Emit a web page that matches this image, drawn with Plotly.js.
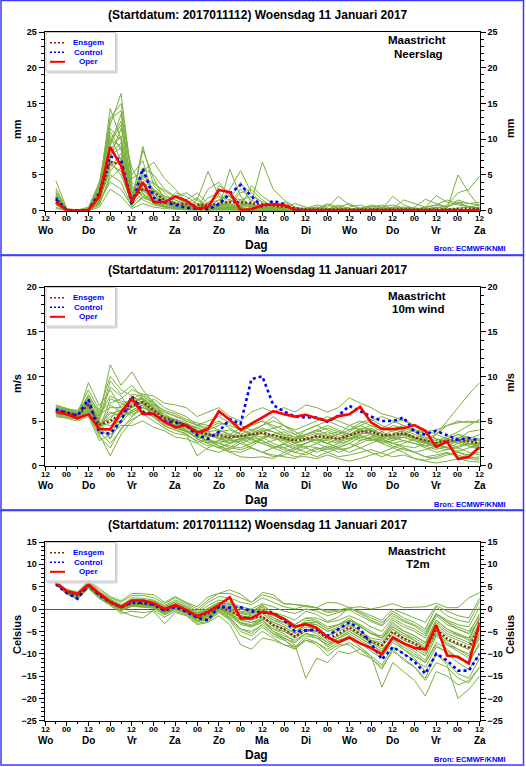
<!DOCTYPE html>
<html><head><meta charset="utf-8">
<script src="https://cdn.plot.ly/plotly-3.0.1.min.js"></script>
<style>html,body{margin:0;padding:0;background:#fff;overflow:hidden}#chart{width:526px;height:767px}</style>
</head><body><div id="chart"></div>
<script>
// ---------- time axis (hours after 2017-01-11 12 UTC) ----------
const hours = [6,12,18,24,30,36,42,48,54,60,66,72,78,84,90,96,102,108,114,120,126,132,138,144,150,156,162,168,174,180,186,192,198,204,210,216,222,228,234,240];
const tickHours = [0,12,24,36,48,60,72,84,96,108,120,132,144,156,168,180,192,204,216,228,240];
const tickLabels = ['12','00','12','00','12','00','12','00','12','00','12','00','12','00','12','00','12','00','12','00','12'];
const dayHours = [0,24,48,72,96,120,144,168,192,216,240];
const dayNames = ['Wo','Do','Vr','Za','Zo','Ma','Di','Wo','Do','Vr','Za'];

// ---------- Neerslag (mm) ----------
const precipOper = [1.2,0.05,0,0.1,2.0,8.9,6.3,1.2,4.0,1.2, 1.2,2.0,1.4,0.3,0.5,2.9,2.6,0.1,0.2,0.8, 0.9,0.8,0.1,0.05,0.05,0.05,0.05,0.05,0.05,0.05, 0.05,0.05,0.05,0.05,0.05,0.05,0.05,0.05,0.05,0.05];
const precipControl = [1.6,0.05,0,0.05,2.5,7.6,7.1,0.8,5.9,1.8, 1.2,0.8,0.4,0.3,0.2,0.9,2.4,3.6,2.0,0.5, 1.4,0.9,0.1,0,0,0,0,0,0,0, 0,0,0,0,0,0,0,0,0,0];
const precipEnsgem = [1.8,0.1,0,0.1,2.0,6.8,6.5,1.6,3.0,2.6, 1.5,1.0,0.9,0.8,0.8,1.0,1.2,1.2,1.1,0.9, 0.7,0.5,0.3,0.2,0.2,0.2,0.15,0.15,0.15,0.15, 0.15,0.15,0.15,0.15,0.15,0.2,0.2,0.3,0.3,0.3];
const precipMembers = [
[1.5,0.1,0,0.1,2.2,9.5,12.0,2.0,4.5,3.0, 1.5,1.0,0.5,0.3,1.2,2.0,1.5,0.8,0.5,0.3, 0.2,0.1,0,0,0,0,0.1,0,0,0, 0,0,0,0,0,0,0,0,0.2,0.3],
[2.0,0.2,0,0.2,3.0,14.3,10.0,3.5,2.0,1.2, 0.8,0.5,1.0,1.8,0.5,0.2,0.5,1.5,2.0,1.2, 0.5,0.2,0.1,0,0,0,0,0,0,0, 0,0,0,0,0,0,0.5,1.2,0.5,0.2],
[1.0,0,0,0,1.5,6.0,8.0,1.0,5.5,6.8, 4.5,3.0,1.2,0.5,0.2,0.5,1.0,3.0,1.5,0.6, 0.3,0.2,0,0,0,0,0,0,0,0, 0.2,0.5,0.1,0,0,0,0,0,0,0],
[4.2,0.3,0.1,0.1,1.0,4.5,6.0,2.5,3.0,2.0, 1.0,0.8,0.5,1.5,5.5,2.0,0.5,0.3,0.1,0, 0,0,0,0,0,0,0,0,0,0, 0,0,0,0,0,0,0,0,0,0],
[1.8,0.1,0,0.3,2.8,12.0,16.4,4.0,2.5,1.0, 0.5,0.3,0.2,0.2,0.1,1.0,3.0,5.6,2.5,1.0, 0.3,0,0,0,0,0,0,0,0,0, 0,0,0,0,0,0,0,0,0,0],
[0.8,0,0,0,1.2,8.0,9.5,1.5,9.0,3.5, 2.0,1.5,0.8,0.5,0.5,0.3,0.2,0.5,1.2,6.8, 3.0,1.5,0.5,0.1,0,0,0,0,0,0, 0,0,0,0,0,0,0,0,0,0],
[2.5,0.2,0.1,0.5,4.0,10.5,7.0,1.0,3.5,4.0, 2.5,1.0,0.5,0.2,3.0,4.0,2.0,0.5,0.2,0.1, 0,0,0,0,0,0,0,0,0,0, 0,0,0,0,0,0,0,0,0,0],
[1.2,0,0,0,0.8,5.0,4.0,0.5,2.0,1.5, 1.0,2.5,2.0,1.0,0.5,0.3,5.8,2.0,0.5,0.2, 0.1,0,0,0,0,0,0,0,0,0, 0,0.2,0,0,0,0,0,0,0,0],
[1.6,0.1,0,0.1,2.0,7.5,11.5,6.0,3.0,1.5, 0.5,0.3,0.3,0.5,1.0,1.5,1.0,0.5,3.5,2.0, 1.0,0.5,0.2,0,0,0,0,0,0,0, 0,0,0,0,0,0,0,0,0,0],
[0.5,0,0,0,1.5,9.0,13.5,3.0,1.5,0.8, 0.5,0.5,1.5,2.5,1.0,0.5,0.3,0.2,0.1,0.5, 0.8,0.5,0.2,0.1,0.1,0,0,0,0,0, 0,0,0,0,0,0,0,0,0,0],
[2.2,0.1,0,0.2,3.5,11.0,8.5,2.0,6.0,5.0, 3.0,2.0,1.0,0.5,0.3,0.5,1.5,4.0,1.0,0.5, 0.2,0.1,0,0,0,0,0,0,0,0, 0,0,0,0,0,0,0,0,0,0],
[1.4,0,0,0.1,1.8,6.5,5.5,1.5,4.0,2.5, 1.5,1.2,0.3,0.1,0.2,3.5,2.5,1.0,0.3,0.1, 0,0,0,0,0,0,0,0,0,0, 0,0,0,0,0,0,0,0,0,0],
[0.3,0,0,0,0.5,3.0,2.0,0.3,1.0,0.5, 0.3,0.2,0,0,0,0,0,0,0,0, 0,0,0,0,0,0,0,0,0,0, 0,0,0,0,0,0,0,0,0,0],
[1.9,0.1,0,0.2,2.5,13.0,15.0,5.0,7.0,2.0, 1.0,0.5,0.2,0.1,0.5,1.0,0.5,0.2,0,0.2, 1.0,0.8,0.3,0,0.2,0,0,0,0,0, 0,0,0,0,0,0,0,0,0,0],
[1.0,0,0,0,1.0,7.0,6.5,0.8,2.5,1.0, 0.8,2.0,2.5,1.5,0.5,0.2,0.1,0,0,0, 0,0,0,0,0,0,0,0,0,0, 0,0,0,0,0,0,0,0,0,0],
[2.8,0.2,0.1,0.3,3.2,8.5,10.5,2.5,5.0,3.0, 2.0,1.5,0.8,0.4,0.3,0.6,1.0,2.5,3.0,1.5, 0.5,0.2,0,0,0,0,0,0,0,0, 0,0,0,0,0,0,0,0,0,0],
[1.3,0.1,0,0,1.6,5.5,7.5,1.2,8.5,4.5, 1.5,0.6,0.3,0.2,0.1,0.2,0.5,1.0,0.8,0.4, 0.2,0,0,0,0,0,0,0,0,0, 0,0,0,0,0,0,0,0,0,0],
[1.7,0.1,0,0.1,2.4,10.0,9.0,1.8,3.2,2.2, 1.2,0.8,0.6,0.4,0.5,1.5,2.0,1.5,0.8,0.3, 0.1,0.2,0.1,0.3,0.8,0.5,2.0,0.8,0.3,0.2, 0.5,0.8,0.4,0.2,0.5,0.8,0.5,1.5,1.0,0.8],
[1.1,0,0,0.1,1.4,6.8,5.0,1.0,4.8,3.8, 2.8,1.8,1.0,0.6,0.2,0.1,0.3,0.8,0.5,0.2, 0.3,1.2,0.5,0.2,0.3,0.8,0.3,0.1,0.4,0.6, 0.2,2.0,0.8,0.3,0.2,0.5,0.3,5.0,2.5,0.5],
[2.4,0.2,0,0.2,2.8,9.8,12.5,3.2,2.2,1.8, 1.0,0.7,0.4,0.3,1.8,2.5,0.8,0.3,0.2,0.4, 0.8,0.3,1.0,0.5,0.3,0.2,0.5,1.0,0.3,0.1, 0.1,0.3,1.5,1.0,0.5,2.1,1.2,0.8,0.5,0.3],
[1.5,0.1,0,0,2.0,7.8,8.8,1.5,2.8,1.6, 0.6,0.4,0.5,0.8,0.3,0.2,0.4,0.8,1.0,0.5, 0.3,0.5,0.2,0.1,0.5,0.3,0.2,0.5,0.8,0.3, 0.2,0.5,0.3,0.5,1.6,1.0,0.5,1.2,1.0,1.2],
[2.0,0.1,0,0.1,2.6,11.5,9.8,2.2,3.8,2.8, 1.8,1.0,0.6,0.3,0.2,0.4,0.8,1.2,0.6,0.3, 0.1,0.1,0.3,0.2,0.1,0.2,0.8,0.3,0.2,0.5, 0.8,0.3,0.5,0.3,0.2,0.3,0.8,2.5,3.0,4.8],
[0.9,0,0,0,1.2,4.0,3.0,0.6,1.8,1.2, 0.6,0.3,0.2,0.5,0.8,0.3,0.2,0.1,0.3,0.5, 0.2,0.1,0.2,0.4,0.2,1.0,0.5,0.2,0.1,0.3, 0.4,0.2,0.3,0.4,0.2,0.5,0.2,0.3,0.5,0.8],
[3.2,0.2,0,0.3,3.8,12.8,14.0,4.5,5.5,2.5, 1.2,0.8,0.4,0.2,0.1,0.3,0.6,0.4,0.2,0.1, 0.5,0.3,0.1,0.2,0.5,0.3,0.2,0.1,0.2,0.8, 0.5,0.2,0.1,0.2,0.4,0.8,1.5,1.0,0.6,0.4]
];

// ---------- 10m wind (m/s) ----------
const windOper = [6.0,5.75,5.3,5.75,4.1,4.05,6.0,7.5,5.8,5.8, 4.9,4.3,4.55,3.7,4.1,6.1,5.15,4.0,4.7,5.4, 6.1,5.75,5.5,5.7,5.3,5.0,5.55,5.75,6.6,4.85, 4.1,4.1,4.2,4.55,3.9,2.1,2.7,0.75,1.0,2.1];
const windControl = [6.3,5.9,5.6,7.4,3.7,3.6,5.0,7.8,6.0,5.8, 5.0,4.8,4.5,3.4,3.0,3.8,5.2,4.7,9.7,10.0, 6.8,6.05,5.5,5.4,5.4,4.9,5.6,6.7,6.1,5.5, 5.0,5.0,5.4,3.8,3.5,3.9,3.4,2.9,3.1,2.8];
const windEnsgem = [6.2,6.0,5.6,6.8,4.6,5.0,5.8,6.7,7.1,6.2, 5.3,5.0,4.5,3.8,3.5,3.4,3.2,3.3,3.5,3.7, 3.4,3.1,2.8,3.0,3.3,3.2,3.0,3.4,3.8,3.8, 3.4,3.5,3.6,3.2,2.8,2.6,2.8,2.9,2.7,2.5];
const windMembers = [
[6.2,6.0,5.6,6.5,4.5,5.5,6.0,7.0,7.5,6.5, 5.5,5.2,4.8,4.0,3.5,3.0,2.8,3.0,3.5,4.0, 3.8,3.2,2.5,2.8,3.5,3.8,3.2,3.0,3.8,4.2, 3.5,3.0,3.2,2.8,2.5,2.2,2.5,3.0,2.8,2.5],
[6.5,6.2,5.8,7.5,5.0,3.0,5.0,8.0,7.8,6.8, 5.8,5.0,4.2,3.5,4.5,5.0,4.2,3.5,2.8,2.5, 2.0,2.5,3.0,3.5,4.0,4.5,4.0,3.5,3.0,2.8, 3.2,4.0,4.5,3.8,3.0,2.5,2.0,2.5,3.0,3.5],
[5.8,5.6,5.4,6.0,4.0,7.5,7.0,6.5,7.0,6.0, 5.0,4.5,4.0,3.0,2.5,2.0,2.5,3.0,3.2,2.8, 2.2,1.8,1.5,2.0,2.5,3.0,3.5,4.5,5.0,4.5, 3.8,3.2,2.8,2.5,2.0,1.5,1.8,2.2,2.5,2.0],
[6.0,5.8,5.5,9.3,6.7,8.5,6.5,5.5,6.5,7.5, 6.5,6.0,5.5,4.5,4.0,4.5,5.0,4.5,4.0,4.5, 5.0,4.5,4.0,4.5,5.0,5.5,5.0,4.5,4.0,3.5, 3.0,3.5,4.0,3.5,3.0,3.5,4.5,5.0,4.8,5.0],
[6.8,6.4,6.0,7.0,5.5,11.3,9.0,10.5,8.5,7.0, 5.5,5.0,4.5,4.0,3.0,2.5,2.0,1.8,2.2,3.0, 3.5,3.0,2.5,2.0,1.5,2.0,2.5,3.5,4.0,3.5, 2.5,2.0,2.5,3.0,3.5,3.0,2.5,2.0,1.5,1.2],
[5.6,5.4,5.2,6.2,3.5,1.1,3.5,5.0,6.0,5.5, 4.5,4.0,3.5,1.1,2.0,2.5,3.0,2.5,2.0,1.5, 1.0,1.2,1.8,2.5,3.0,2.5,2.0,1.5,2.0,2.5, 3.0,2.5,2.0,1.5,1.0,0.8,1.2,1.5,1.0,0.8],
[6.3,6.1,5.7,8.0,5.8,6.5,6.5,7.5,8.0,7.2, 6.0,5.5,5.0,4.5,5.0,5.5,4.8,4.0,4.5,5.0, 4.5,4.0,3.5,4.0,4.5,4.0,3.5,4.0,4.8,5.2, 4.5,4.0,3.8,3.2,2.8,2.5,3.0,3.5,3.2,3.0],
[6.0,5.9,5.5,6.8,4.2,4.0,5.5,6.0,6.5,5.8, 5.0,4.8,4.5,3.8,3.2,3.5,3.0,3.5,4.0,3.5, 3.0,2.8,2.2,2.5,3.0,2.8,2.5,2.8,3.5,3.8, 4.2,4.8,5.2,4.5,3.5,3.0,2.8,2.5,2.2,2.0],
[6.4,6.2,5.9,7.2,5.2,9.5,8.0,9.0,7.5,6.5, 5.2,4.5,4.0,3.5,2.8,2.2,1.8,2.5,3.0,3.8, 4.2,4.5,3.8,3.2,2.8,2.5,2.0,2.5,3.2,3.0, 2.5,2.8,3.5,3.0,2.5,2.0,1.8,2.0,2.5,2.2],
[5.9,5.7,5.3,6.4,4.8,4.5,5.0,6.8,7.2,6.0, 4.8,4.2,3.8,3.5,3.8,4.0,3.5,3.0,2.5,3.0, 3.5,3.0,2.8,3.5,4.0,3.5,3.0,3.8,4.5,4.0, 3.5,3.0,3.5,4.0,3.5,3.0,2.5,3.0,3.8,4.0],
[6.6,6.3,5.9,7.8,6.0,7.0,7.5,8.5,8.0,7.8, 7.0,6.8,6.5,5.5,6.0,6.5,5.5,5.0,6.0,6.5, 6.0,6.5,6.0,6.8,6.5,6.0,6.5,7.6,7.0,6.5, 5.8,5.5,5.0,4.5,4.0,3.5,3.0,2.5,2.8,3.0],
[6.1,5.8,5.4,6.6,3.8,2.5,4.0,5.5,6.8,6.2, 5.5,5.0,4.0,3.0,2.5,2.0,1.5,1.0,0.9,1.0, 0.8,1.5,2.0,1.5,1.0,1.5,2.0,2.5,2.0,1.5, 1.0,1.5,2.0,1.5,1.0,1.2,1.5,1.0,0.8,1.0],
[6.2,6.0,5.6,7.0,4.6,5.8,6.2,7.2,7.6,6.6, 5.6,5.2,4.6,4.2,3.8,3.0,3.2,3.8,4.5,5.0, 4.2,3.5,3.2,3.0,3.2,3.5,3.8,3.2,2.8,3.2, 3.8,4.5,4.2,3.8,3.2,2.8,3.2,3.8,4.5,5.2],
[5.5,5.3,5.0,5.5,2.8,3.5,4.5,4.5,5.0,4.3, 3.9,3.2,3.0,2.5,1.8,1.5,2.0,2.8,2.0,1.5, 2.0,1.5,1.0,1.0,0.8,1.2,0.8,0.5,0.8,1.2, 1.5,2.0,1.5,0.8,0.5,0.3,0.5,0.8,0.5,0.4],
[6.7,6.4,6.1,8.5,6.2,10.0,8.5,7.8,7.0,6.8, 6.2,5.8,5.2,4.8,4.5,4.0,3.5,3.2,3.8,4.5, 5.5,4.5,3.5,3.0,2.8,3.2,3.5,3.0,3.2,3.5, 3.0,2.5,2.8,2.5,2.2,2.5,3.0,3.5,3.0,2.8],
[6.0,5.8,5.6,6.2,4.4,4.8,5.8,6.5,7.3,6.4, 5.4,4.8,4.3,3.6,3.2,3.8,4.0,3.5,3.0,2.5, 2.8,3.2,3.0,4.0,4.5,5.0,4.5,4.0,4.5,5.0, 5.5,5.0,4.5,4.0,3.8,4.0,4.5,4.8,5.0,4.8],
[6.3,6.1,5.8,6.9,4.9,6.0,5.5,6.2,6.8,5.6, 4.6,4.4,3.9,3.2,2.8,2.5,2.2,2.0,2.5,3.2, 2.5,2.0,1.5,1.2,1.8,2.2,1.8,2.0,2.8,3.2, 2.8,2.2,1.8,1.5,1.8,2.2,2.0,1.5,1.2,1.5],
[5.7,5.5,5.2,5.8,3.2,2.0,4.2,5.2,5.8,5.0, 4.2,3.6,3.4,2.8,2.2,2.8,3.5,4.2,3.5,2.8, 2.2,2.0,2.5,3.0,2.5,2.0,1.5,2.0,2.5,3.0, 2.8,2.5,2.2,2.0,2.5,3.5,5.0,6.5,8.0,9.3],
[6.5,6.3,6.2,7.6,5.6,7.8,7.2,7.0,7.8,7.0, 6.0,5.6,5.0,4.6,4.2,4.8,4.5,4.0,3.5,3.2, 3.5,3.8,3.2,3.5,3.8,4.2,3.8,3.5,4.0,4.5, 4.2,3.8,3.5,3.2,2.8,2.5,2.8,3.2,3.0,2.5],
[6.1,5.9,5.6,6.7,4.3,3.0,6.0,6.8,7.0,5.9, 5.0,4.6,4.4,3.4,2.6,2.8,2.5,2.8,3.2,4.0, 3.2,2.5,2.0,2.5,3.0,2.5,3.0,3.5,4.2,4.0, 3.2,2.8,3.2,2.8,2.2,1.8,2.2,2.8,2.2,1.8],
[6.4,6.1,5.7,7.3,5.1,8.8,7.8,6.0,6.5,6.1, 5.3,5.0,4.7,4.3,3.6,3.2,3.0,3.3,3.6,4.2, 3.8,3.4,3.0,3.3,3.6,3.3,2.8,3.3,3.8,4.0, 3.6,3.2,3.6,3.2,2.6,2.2,2.6,2.8,2.4,2.6],
[5.9,5.8,5.3,6.3,4.0,4.2,4.8,6.2,6.8,5.8, 4.8,4.3,3.8,3.1,3.5,3.0,2.6,3.0,3.0,2.5, 2.0,2.4,1.8,2.2,2.0,1.8,2.2,2.8,3.4,3.0, 2.6,3.2,3.8,3.2,2.8,2.4,2.0,1.6,2.0,2.4],
[6.2,6.0,5.7,6.8,4.7,5.2,6.8,7.5,7.4,6.3, 5.2,4.9,4.4,3.9,3.4,3.6,3.4,3.2,3.4,3.6, 3.2,2.9,2.6,2.9,3.2,3.0,2.7,3.0,3.6,3.6, 3.2,3.4,3.4,3.0,2.6,2.4,2.6,2.7,2.5,2.3],
[6.0,5.7,5.4,6.1,3.6,6.8,6.0,5.8,6.2,5.4, 4.4,4.0,3.6,2.6,3.0,2.2,1.6,1.5,2.0,1.5, 1.2,1.0,0.8,1.5,2.0,1.5,1.0,1.2,1.5,1.8, 1.4,1.0,1.2,0.8,0.6,1.0,1.4,1.2,0.8,0.6]
];

// ---------- T2m (Celsius) ----------
const tempOper = [5.9,4.0,3.4,5.5,3.5,1.6,0.4,1.9,1.9,1.3, 0.0,0.9,-0.2,-1.6,-0.6,0.9,2.6,-2.1,-2.1,-0.6, -1.1,-2.2,-4.0,-3.4,-4.2,-6.3,-7.5,-6.4,-7.7,-8.7, -10.1,-6.4,-7.7,-8.7,-9.0,-3.6,-10.4,-10.7,-12.2,-3.0];
const tempControl = [5.5,3.6,2.3,5.4,3.1,1.5,0.4,1.5,1.4,1.0, -0.4,0.5,-0.6,-2.0,-2.5,0.6,0.3,0.4,-0.5,-0.8, -0.8,-2.5,-5.0,-4.8,-4.6,-6.0,-4.5,-3.0,-4.5,-7.7, -11.3,-8.5,-10.0,-11.8,-14.5,-10.0,-11.5,-13.8,-13.8,-10.0];
const tempEnsgem = [5.8,3.8,3.0,5.2,3.2,1.6,0.4,1.3,1.2,0.9, -0.3,0.6,-0.4,-1.8,-1.0,0.5,-0.4,-1.7,-2.0,-1.7, -3.6,-4.5,-6.2,-4.7,-4.7,-6.6,-5.6,-4.1,-5.6,-7.3, -8.1,-5.1,-6.6,-7.7,-9.2,-4.5,-6.6,-7.7,-8.6,-4.0];
const tempMembers = [
[5.9,3.9,3.1,5.4,3.4,1.8,0.6,1.8,1.6,1.2, 0.2,1.2,0.3,-1.0,0.2,1.5,1.0,0.2,-0.5,0.8, -0.8,-1.5,-2.5,-0.5,-1.2,-2.8,-1.8,0.3,-1.0,-2.5, -3.5,-0.5,-2.0,-3.0,-4.5,0.5,-1.5,-2.5,-3.0,1.8],
[5.6,3.6,2.6,5.0,2.9,1.3,0.0,0.8,0.7,0.5, -1.0,0.0,-1.0,-2.6,-2.2,-0.3,-1.8,-4.5,-5.5,-3.5, -5.5,-6.8,-9.0,-7.0,-8.0,-10.5,-8.5,-7.5,-9.0,-11.0, -13.5,-9.0,-11.5,-13.0,-15.5,-10.0,-12.0,-14.5,-15.5,-11.0],
[5.8,3.8,3.2,5.5,3.3,1.7,0.5,1.5,1.4,1.0, -0.2,0.8,-0.2,-1.5,-0.8,0.8,0.2,-1.0,-1.2,0.5, -2.0,-3.0,-4.5,-2.5,-2.8,-4.5,-3.5,-2.0,-3.8,-5.5, -6.5,-3.0,-4.8,-6.0,-7.5,-2.5,-4.5,-5.8,-7.0,-2.0],
[5.7,3.7,2.9,5.1,3.0,1.5,0.2,1.1,1.0,0.7, -0.6,0.4,-0.6,-2.2,-1.5,0.2,-1.0,-3.0,-4.0,-2.5, -5.0,-6.5,-8.0,-15.5,-11.0,-12.0,-9.5,-10.0,-9.0,-10.5, -12.5,-8.5,-10.0,-11.5,-13.0,-8.5,-9.5,-11.0,-12.0,-8.0],
[6.0,4.1,3.4,5.8,3.8,2.2,1.0,2.0,1.9,1.6, 0.6,1.6,0.6,-0.8,0.8,2.0,1.5,0.5,0.0,1.2, 0.5,-0.5,-1.0,0.0,-0.5,-1.5,-0.8,0.0,-0.5,-1.5, -2.5,0.0,-1.0,-2.0,-3.0,0.8,-0.5,-1.5,-2.0,2.5],
[5.5,3.4,2.4,4.7,2.5,1.0,-0.6,-1.5,-2.0,-0.3, -1.8,-0.5,-1.3,-3.2,-2.8,-0.8,-2.5,-6.0,-7.0,-5.0, -6.5,-8.0,-9.0,-6.5,-7.5,-9.0,-7.5,-6.0,-7.5,-9.5, -11.0,-6.5,-8.0,-9.5,-11.5,-6.0,-8.0,-9.5,-11.0,-6.5],
[5.9,4.0,3.3,5.6,3.6,2.0,0.8,2.5,2.4,2.0, 0.8,2.0,1.0,-0.5,1.5,2.8,2.5,1.5,1.0,2.5, 1.5,0.5,0.0,0.8,0.3,-0.5,-0.2,0.3,-0.8,-2.0, -3.0,-1.0,-2.5,-3.5,-5.0,-1.0,-3.0,-4.5,-5.5,-2.5],
[5.8,3.7,3.0,5.3,3.1,1.5,0.3,1.2,1.0,0.8, -0.5,0.5,-0.5,-2.0,-1.5,0.3,-1.0,-2.5,-3.0,-2.5, -4.5,-5.5,-7.5,-5.5,-6.0,-8.5,-7.0,-6.5,-8.5,-10.5, -17.5,-12.0,-14.0,-16.0,-19.5,-14.0,-15.0,-17.0,-16.0,-13.0],
[6.2,4.3,3.6,6.0,4.2,2.5,1.5,3.0,3.0,2.5, 1.2,2.5,1.3,0.0,2.0,3.5,3.5,2.5,1.5,3.2, 2.5,1.2,1.0,0.8,0.2,-0.8,-0.5,-0.2,-1.5,-2.8, -3.8,-1.5,-2.8,-3.8,-5.5,-1.2,-2.8,-4.0,-5.0,-1.5],
[5.6,3.5,2.6,4.9,2.7,1.2,-0.3,0.6,0.4,0.2, -1.3,-0.2,-1.0,-2.8,-2.5,-0.5,-2.2,-5.0,-6.0,-4.0, -6.0,-7.0,-8.5,-6.0,-6.5,-8.0,-6.5,-5.0,-6.5,-8.0, -9.5,-6.0,-7.5,-9.0,-10.5,-5.5,-7.5,-9.0,-10.0,-5.5],
[5.7,3.8,2.9,5.2,3.2,1.6,0.4,1.3,1.2,0.9, -0.3,0.6,-0.4,-1.8,-1.2,0.5,-0.5,-2.0,-2.5,-1.5, -3.5,-4.5,-6.0,-4.5,-5.0,-7.0,-6.0,-4.5,-6.0,-7.5, -9.0,-6.5,-9.0,-11.0,-14.0,-10.0,-12.5,-20.0,-18.0,-15.0],
[5.9,3.9,3.1,5.3,3.3,1.8,0.6,1.6,1.5,1.1, -0.1,0.9,-0.1,-1.3,-0.5,1.0,0.5,-0.8,-1.0,0.0, -2.5,-3.5,-5.0,-3.5,-3.5,-5.0,-4.0,-2.5,-4.0,-5.5, -6.0,-2.5,-4.0,-5.0,-6.5,-1.5,-3.5,-4.5,-5.5,-1.0],
[6.1,4.4,3.8,6.3,4.6,2.8,1.8,3.5,3.4,3.2, 1.5,2.8,1.5,0.5,2.7,3.5,4.3,3.3,1.5,3.7, 3.2,1.2,1.0,0.5,0.3,1.5,1.3,0.3,0.5,0.0, 0.5,1.2,0.3,0.4,0.5,1.3,0.3,0.3,2.5,3.7],
[5.4,3.3,2.2,4.6,2.3,0.8,-1.0,-0.5,-0.8,-0.5, -3.3,-0.8,-1.5,-3.5,-3.0,-1.5,-3.5,-8.0,-9.0,-6.5, -7.0,-8.0,-8.5,-7.0,-7.5,-9.5,-8.0,-8.0,-10.0,-11.0, -13.0,-9.5,-11.0,-13.0,-16.0,-12.0,-13.0,-15.5,-16.5,-13.0],
[5.8,3.9,3.0,5.4,3.4,1.5,0.2,1.0,0.9,0.6, -0.7,0.4,-0.6,-1.8,-1.0,0.8,0.0,-1.5,-2.2,-1.0, -3.0,-4.0,-5.5,-4.0,-4.5,-6.0,-5.0,-3.8,-5.5,-7.0, -8.0,-4.5,-6.0,-7.0,-8.5,-3.5,-5.5,-6.5,-7.5,-3.0],
[6.0,4.0,3.3,5.7,3.7,2.1,0.9,2.2,2.1,1.8, 0.5,1.5,0.5,-1.0,0.0,1.5,1.2,0.0,-0.8,1.0, -1.0,-2.0,-3.5,-2.0,-2.5,-4.0,-3.5,-2.5,-3.5,-5.0, -6.5,-4.0,-5.5,-7.0,-9.0,-5.0,-7.0,-8.0,-9.0,-5.5],
[5.6,3.6,2.7,5.0,2.9,1.4,-0.2,0.8,0.6,0.4, -1.0,0.2,-0.8,-2.3,-2.0,0.0,-1.5,-3.5,-4.0,-3.0, -5.0,-6.0,-7.0,-5.5,-6.0,-7.5,-6.5,-5.5,-7.0,-8.5, -10.0,-7.0,-8.5,-10.0,-12.0,-8.0,-10.0,-12.0,-13.5,-10.0],
[5.7,3.7,2.9,5.1,3.1,1.6,0.5,1.4,1.3,1.0, -0.2,0.7,-0.3,-1.6,-0.8,0.6,-0.3,-1.5,-1.8,-0.8, -2.5,-3.0,-4.0,-3.0,-3.5,-5.0,-4.5,-3.5,-5.0,-6.5, -7.0,-4.0,-5.5,-6.5,-8.0,-3.0,-5.0,-6.0,-6.5,-2.0],
[5.9,3.8,3.1,5.3,3.3,1.7,0.4,1.2,1.1,0.9, -0.3,0.6,-0.4,-1.8,-1.3,0.4,-0.8,-2.5,-3.0,-2.0, -4.0,-5.0,-6.5,-5.0,-5.0,-7.0,-6.0,-4.5,-6.0,-7.5, -8.5,-5.5,-7.0,-8.0,-9.5,-5.0,-7.0,-8.0,-9.0,-4.5],
[5.8,3.7,3.0,5.2,3.2,1.6,0.3,1.3,1.2,0.9, -0.4,0.5,-0.5,-1.9,-1.6,0.3,-1.2,-3.0,-3.5,-2.2, -3.0,-4.0,-5.5,-3.5,-4.0,-6.0,-4.5,-3.0,-5.0,-7.0, -7.5,-4.5,-6.5,-7.5,-9.0,-4.0,-6.0,-7.0,-8.0,-3.5],
[5.5,3.4,2.5,4.8,2.6,1.1,-0.4,0.6,0.5,0.2, -1.2,0.0,-1.0,-2.8,-2.2,-0.3,-2.0,-4.5,-5.0,-3.5, -5.5,-6.5,-7.5,-5.5,-6.5,-8.0,-7.0,-6.0,-7.5,-9.0, -10.5,-7.5,-9.0,-10.5,-12.0,-7.5,-9.0,-11.0,-12.0,-7.5],
[6.0,4.0,3.2,5.5,3.5,1.9,0.7,1.9,1.8,1.4, 0.0,1.0,0.0,-1.2,-0.2,1.2,0.8,-0.5,-0.8,0.5, -1.5,-2.5,-3.5,-2.0,-2.0,-3.0,-2.5,-1.5,-2.5,-4.0, -5.0,-2.0,-3.5,-4.5,-6.0,-1.0,-2.5,-3.5,-4.0,0.5],
[5.7,3.6,2.8,5.1,3.0,1.5,0.1,0.9,0.8,0.5, -0.8,0.3,-0.7,-2.1,-1.8,0.0,-1.2,-3.2,-3.8,-2.5, -4.5,-5.0,-6.0,-4.5,-5.5,-7.5,-6.5,-5.0,-6.5,-8.0, -9.5,-6.0,-7.5,-8.5,-10.0,-5.5,-8.0,-9.0,-10.5,-6.0],
[5.8,3.9,3.1,5.3,3.2,1.7,0.5,1.5,1.3,1.0, -0.1,0.8,-0.2,-1.6,-0.8,0.7,0.0,-1.0,-1.5,0.0, -2.0,-3.0,-4.0,-3.0,-3.0,-4.5,-3.5,-2.5,-4.0,-5.5, -6.5,-3.5,-5.0,-6.0,-7.5,-2.5,-4.5,-5.5,-6.5,-2.0]
];

// ---------- texts ----------
const titleText = '(Startdatum: 2017011112) Woensdag 11 Januari 2017';
const station = 'Maastricht';
const panelNames = ['Neerslag', '10m wind', 'T2m'];
const unitNames = ['mm', 'm/s', 'Celsius'];
const legendNames = ['Ensgem', 'Control', 'Oper'];
const sourceText = 'Bron: ECMWF/KNMI';
const xTitle = 'Dag';

// ---------- styling ----------
const FONT = 'Liberation Sans, Arial, Helvetica, sans-serif';
const GREEN = 'rgb(122,176,62)';
const C_ENS = '#8b2214';
const C_CTL = '#0000ff';
const C_OP = '#ff0000';
const W = 526, H = 767;
const X = p => p / W;
const Y = p => 1 - p / H;

const panels = [
  {members: precipMembers, ens: precipEnsgem, ctl: precipControl, op: precipOper, range: [0, 25]},
  {members: windMembers, ens: windEnsgem, ctl: windControl, op: windOper, range: [0, 20]},
  {members: tempMembers, ens: tempEnsgem, ctl: tempControl, op: tempOper, range: [-25, 15]}
];

const traces = [];
const layout = {
  width: W, height: H, margin: {l: 0, r: 0, t: 0, b: 0},
  paper_bgcolor: '#fff', plot_bgcolor: '#fff', showlegend: false,
  font: {family: FONT, color: '#000'},
  shapes: [], annotations: []
};

const PLOT_L = 45, PLOT_R = 479.7;
panels.forEach((p, k) => {
  const off = 255 * k;
  const top = 32 + off, bot = 210.7 + off;
  const xr = k === 0 ? 'x' : 'x' + (k + 1);
  const yr = k === 0 ? 'y' : 'y' + (k + 1);
  const yr2 = 'y' + (k + 4);
  const xa = k === 0 ? 'xaxis' : 'xaxis' + (k + 1);
  const ya = k === 0 ? 'yaxis' : 'yaxis' + (k + 1);
  const ya2 = 'yaxis' + (k + 4);

  p.members.forEach(m => traces.push({x: hours, y: m, xaxis: xr, yaxis: yr, type: 'scatter', mode: 'lines',
    line: {color: GREEN, width: 1}, hoverinfo: 'skip'}));
  traces.push({x: hours, y: p.ens, xaxis: xr, yaxis: yr, type: 'scatter', mode: 'lines',
    line: {color: C_ENS, width: 2.2, dash: '2px,2px'}, hoverinfo: 'skip'});
  traces.push({x: hours, y: p.ctl, xaxis: xr, yaxis: yr, type: 'scatter', mode: 'lines',
    line: {color: C_CTL, width: 2.6, dash: '3px,3px'}, hoverinfo: 'skip'});
  traces.push({x: hours, y: p.op, xaxis: xr, yaxis: yr, type: 'scatter', mode: 'lines',
    line: {color: C_OP, width: 2.6}, hoverinfo: 'skip'});
  traces.push({x: [], y: [], xaxis: xr, yaxis: yr2, type: 'scatter', mode: 'lines', hoverinfo: 'skip'});

  const tickF = {family: FONT, size: 9, color: '#000', weight: 'bold'};
  layout[xa] = {
    domain: [X(PLOT_L), X(PLOT_R)], anchor: yr, range: [0, 240],
    tickmode: 'array', tickvals: tickHours, ticktext: tickLabels, showticklabels: false,
    ticks: 'outside', ticklen: 4, tickwidth: 1, tickcolor: '#000',
    minor: {tickmode: 'linear', tick0: 0, dtick: 6, ticks: 'outside', ticklen: 2, tickcolor: '#000', showgrid: false},
    showline: true, linecolor: '#000', linewidth: 1.5, mirror: true,
    showgrid: false, zeroline: false, fixedrange: true
  };
  const yCommon = {
    range: p.range, tickmode: 'linear', tick0: 0, dtick: 5,
    ticks: 'outside', ticklen: 5, tickwidth: 1, tickcolor: '#000',
    minor: {tickmode: 'linear', tick0: 0, dtick: 1, ticks: 'outside', ticklen: 3, tickcolor: '#000', showgrid: false},
    showgrid: false, fixedrange: true, tickfont: tickF
  };
  layout[ya] = Object.assign({}, yCommon, {
    domain: [Y(bot), Y(top)], anchor: xr,
    showline: true, linecolor: '#000', linewidth: 1.5, mirror: true,
    zeroline: k === 2, zerolinecolor: '#555', zerolinewidth: 1
  });
  layout[ya2] = Object.assign({}, yCommon, {
    overlaying: yr, side: 'right', anchor: xr, showline: false, zeroline: false
  });

  const A = (text, x, y, size, color, extra) => layout.annotations.push(Object.assign({
    text: text, x: X(x), y: Y(y + off), xref: 'paper', yref: 'paper', showarrow: false,
    xanchor: 'center', yanchor: 'middle',
    font: {family: FONT, size: size, color: color || '#000', weight: 'bold'}
  }, extra || {}));

  A(titleText, 258, 15, 12);
  A(station, 417, 40.5, 11.5, '#000', {borderpad: 0});
  A(panelNames[k], 418, 53.5, 11.5, '#000', {borderpad: 0});
  A(unitNames[k], 17, k === 2 ? 125 : 129, 11, '#000', {textangle: -90});
  A(unitNames[k], 510, k === 2 ? 125 : 128, 11, '#000', {textangle: -90});
  A(xTitle, 256, 245, 12);
  A(sourceText, 507.5, 249, 7.5, C_CTL, {xanchor: 'right'});
  // hour labels on the time axis
  tickHours.forEach((h, i) => layout.annotations.push({
    text: tickLabels[i], x: h, xref: xr, y: Y(219 + off), yref: 'paper', showarrow: false,
    xanchor: 'center', yanchor: 'middle', borderpad: 0,
    font: {family: FONT, size: 8, color: '#000', weight: 'bold'}
  }));
  dayHours.forEach((h, i) => layout.annotations.push({
    text: dayNames[i], x: h, xref: xr, y: Y(230.5 + off), yref: 'paper', showarrow: false,
    xanchor: 'center', yanchor: 'middle', borderpad: 0,
    font: {family: FONT, size: 10, color: '#000', weight: 'bold'}
  }));

  // legend box
  layout.shapes.push({type: 'line', xref: 'paper', yref: 'paper', x0: X(116.5), x1: X(116.5), y0: Y(33 + off), y1: Y(72.5 + off), line: {color: '#d6d6d6', width: 2}, layer: 'above'});
  layout.shapes.push({type: 'line', xref: 'paper', yref: 'paper', x0: X(47), x1: X(117.5), y0: Y(72.5 + off), y1: Y(72.5 + off), line: {color: '#d6d6d6', width: 2}, layer: 'above'});
  layout.shapes.push({type: 'rect', xref: 'paper', yref: 'paper', x0: X(46), x1: X(115.5), y0: Y(71 + off), y1: Y(32.5 + off), fillcolor: '#fff', line: {color: '#c8c8c8', width: 1}, layer: 'above'});
  const legStyles = [{color: C_ENS, width: 1.5, dash: '2px,2px'}, {color: C_CTL, width: 1.5, dash: '2px,2px'}, {color: C_OP, width: 2}];
  const legY = [42.8, 52.3, 61.8];
  legendNames.forEach((n, i) => {
    layout.shapes.push({type: 'line', xref: 'paper', yref: 'paper', x0: X(50), x1: X(65), y0: Y(legY[i] + off), y1: Y(legY[i] + off), line: legStyles[i], layer: 'above'});
    A(n, 88, legY[i], 8, C_CTL, {borderpad: 0});
  });

  // panel frame
  layout.shapes.push({type: 'rect', xref: 'paper', yref: 'paper', x0: X(1), x1: X(523.5), y0: Y(Math.min(255 + off, 765.5)), y1: Y(off + 0.5), line: {color: '#3a3aff', width: 1.5}, layer: 'above'});
});

Plotly.newPlot('chart', traces, layout, {staticPlot: true, displayModeBar: false});
</script>
</body></html>
